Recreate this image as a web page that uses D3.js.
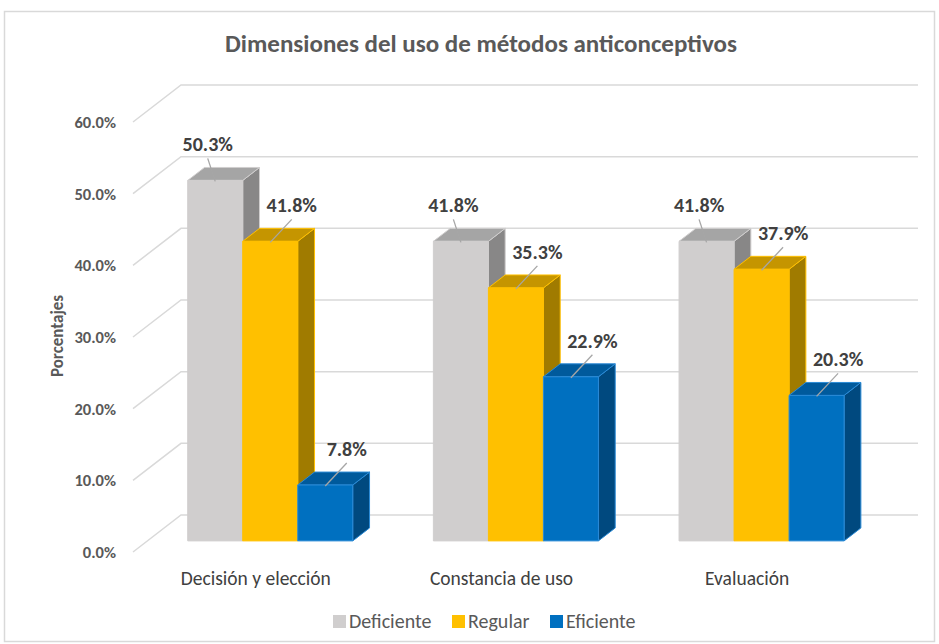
<!DOCTYPE html>
<html>
<head>
<meta charset="utf-8">
<script src="https://cdn.jsdelivr.net/npm/d3@7"></script>
<style>
  body { margin: 0; background: #fff; }
  svg text { font-family: Carlito, Calibri, "Open Sans", sans-serif; }
</style>
</head>
<body>
<svg id="chart" width="939" height="644"></svg>
<script>
// data
var categories = ['Decisión y elección', 'Constancia de uso', 'Evaluación'];
var series = ['Deficiente', 'Regular', 'Eficiente'];
var deficiente = [0.503, 0.418, 0.418];
var regular = [0.418, 0.353, 0.379];
var eficiente = [0.078, 0.229, 0.203];
var yTicks = [0, 0.1, 0.2, 0.3, 0.4, 0.5, 0.6];

var values = [deficiente, regular, eficiente];

// face colours per series: front, top, side, edge
var colors = [
    {front: '#D0CECE', top: '#A5A5A5', side: '#888787', edge: '#D0CECE'},
    {front: '#FFC000', top: '#C59500', side: '#A07B00', edge: '#FFC000'},
    {front: '#0070C0', top: '#005A9C', side: '#00497F', edge: '#2A8AD6'}
];

var svg = d3.select('#chart');

// frame
svg.append('rect')
    .attr('x', 4.5).attr('y', 11.5).attr('width', 930).attr('height', 630)
    .attr('fill', '#fff').attr('stroke', '#d9d9d9').attr('stroke-width', 1.5);

// title
svg.append('text')
    .attr('x', 481).attr('y', 52)
    .attr('text-anchor', 'middle')
    .style('font-size', '25px').style('font-weight', 'bold')
    .style('fill', '#595959')
    .text('Dimensiones del uso de métodos anticonceptivos');

// 3d projection: depth offset of the whole floor
var DX = 48, DY = -37;
var zFront = 0.3, zBack = 0.65;

var x = d3.scaleBand().domain(categories).range([133, 870]);
var xs = d3.scaleBand().domain(series).range([0, x.bandwidth()]).paddingOuter(0.733);
var y = d3.scaleLinear().domain([0, 0.6]).range([552, 122]);

// gridlines on side wall and back wall
var grid = svg.append('g').attr('stroke', '#d9d9d9').attr('stroke-width', 1.5).attr('fill', 'none');
yTicks.forEach(function(t){
    grid.append('path')
        .attr('d', 'M' + x.range()[0] + ',' + y(t) +
                   'L' + (x.range()[0] + DX) + ',' + (y(t) + DY) +
                   'L' + (x.range()[1] + DX) + ',' + (y(t) + DY));
});

// tick labels
svg.append('g').selectAll('text').data(yTicks).enter().append('text')
    .attr('x', 116).attr('y', function(d){ return y(d) + 6; })
    .attr('text-anchor', 'end')
    .style('font-size', '16.5px').style('font-weight', 'bold').style('fill', '#595959')
    .text(d3.format('.1%'));

// axis title
svg.append('text')
    .attr('transform', 'translate(63,336) rotate(-90)')
    .attr('text-anchor', 'middle')
    .style('font-size', '17px').style('font-weight', 'bold').style('fill', '#595959')
    .text('Porcentajes');

// bars
var bars = [];
categories.forEach(function(c, i){
    series.forEach(function(s, j){
        bars.push({cat: c, ser: s, j: j, v: values[j][i]});
    });
});

var bx0 = DX * zFront, by0 = DY * zFront;
var dx = DX * (zBack - zFront), dy = DY * (zBack - zFront);
var bw = xs.bandwidth();

var gBars = svg.append('g');
bars.forEach(function(b){
    var left = x(b.cat) + xs(b.ser) + bx0;
    var right = left + bw;
    var top = y(b.v) + by0;
    var bottom = y(0) + by0;
    var col = colors[b.j];
    var g = gBars.append('g').attr('stroke', col.edge).attr('stroke-width', 1).attr('stroke-linejoin', 'round');
    // side
    g.append('path')
        .attr('d', 'M' + right + ',' + bottom + 'L' + right + ',' + top +
                   'L' + (right + dx) + ',' + (top + dy) + 'L' + (right + dx) + ',' + (bottom + dy) + 'Z')
        .attr('fill', col.side);
    // top
    g.append('path')
        .attr('d', 'M' + left + ',' + top + 'L' + (left + dx) + ',' + (top + dy) +
                   'L' + (right + dx) + ',' + (top + dy) + 'L' + right + ',' + top + 'Z')
        .attr('fill', col.top);
    // front
    g.append('rect')
        .attr('x', left).attr('y', top).attr('width', bw).attr('height', bottom - top)
        .attr('fill', col.front);
    b.left = left; b.top = top;
});

// data labels with leader lines
var gLab = svg.append('g');
bars.forEach(function(b){
    var lx = b.left + (b.j == 0 ? 20 : 49);
    var ly = b.top - 36;
    gLab.append('line')
        .attr('x1', lx).attr('y1', ly + 14)
        .attr('x2', b.left + bw / 2).attr('y2', b.top + 1)
        .attr('stroke', '#a6a6a6').attr('stroke-width', 1.3);
    gLab.append('text')
        .attr('x', lx).attr('y', ly + 7)
        .attr('text-anchor', 'middle')
        .style('font-size', '20px').style('font-weight', 'bold').style('fill', '#404040')
        .text(d3.format('.1%')(b.v));
});

// category labels
svg.append('g').selectAll('text').data(categories).enter().append('text')
    .attr('x', function(d){ return x(d) + x.bandwidth() / 2; })
    .attr('y', 585)
    .attr('text-anchor', 'middle')
    .style('font-size', '19.5px').style('fill', '#404040')
    .text(function(d){ return d; });

// legend
var legX = [333, 452, 550];
var leg = svg.append('g');
series.forEach(function(s, j){
    leg.append('rect')
        .attr('x', legX[j]).attr('y', 615).attr('width', 13).attr('height', 13)
        .attr('fill', colors[j].front);
    leg.append('text')
        .attr('x', legX[j] + 16).attr('y', 628)
        .style('font-size', '20px').style('fill', '#595959')
        .text(s);
});
</script>
</body>
</html>
